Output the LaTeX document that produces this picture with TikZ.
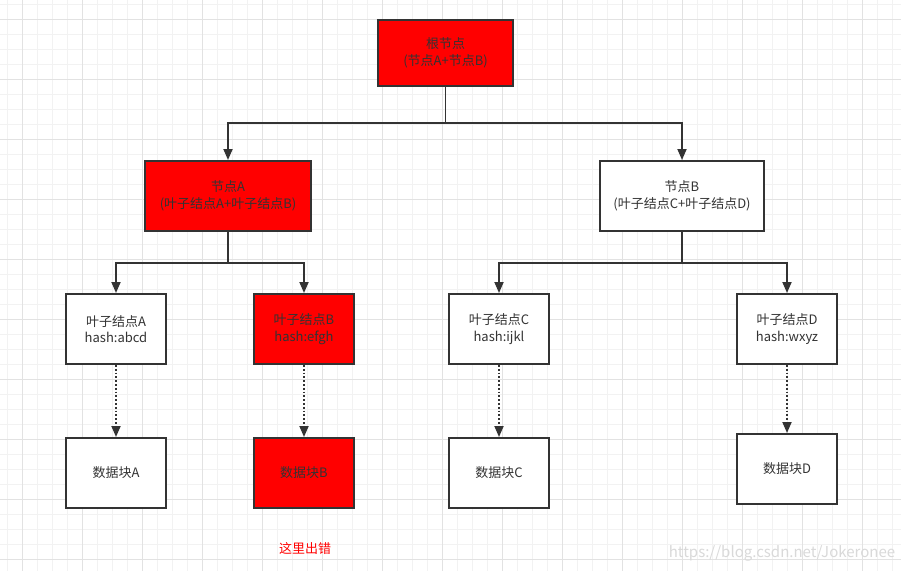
\documentclass[tikz,border=0pt]{standalone}
\usepackage{fontspec}
\setmainfont{Noto Sans CJK SC}
\usetikzlibrary{arrows.meta,positioning,calc}
\definecolor{errcolor}{RGB}{255,0,0}
\definecolor{linecolor}{RGB}{51,51,51}
\definecolor{gridminor}{RGB}{242,242,242}
\definecolor{gridmajor}{RGB}{226,226,226}

\tikzset{
  block/.style={draw=linecolor, line width=2pt, fill=white, text=linecolor,
    align=center, font=\fontsize{13}{16.5}\selectfont, inner sep=0pt},
  badblock/.style={block, fill=errcolor},
  leafbox/.style={minimum width=100pt, minimum height=70pt},
  link/.style={draw=linecolor, line width=1.8pt, -{Triangle[length=11pt,width=9pt]}},
  hashlink/.style={link, dotted}
}

\begin{document}
\begin{tikzpicture}[x=1pt,y=-1pt]

% ================= BACKGROUND GRID =================
\useasboundingbox (0,0) rectangle (901,571);
\fill[white] (0,0) rectangle (901,571);
\foreach \x in {7,22,...,901}
  \draw[gridminor, line width=0.8pt] (\x,0) -- (\x,571);
\foreach \y in {4,19,...,571}
  \draw[gridminor, line width=0.8pt] (0,\y) -- (901,\y);
\foreach \x in {22,82,...,901}
  \draw[gridmajor, line width=0.8pt] (\x,0) -- (\x,571);
\foreach \y in {19,79,...,571}
  \draw[gridmajor, line width=0.8pt] (0,\y) -- (901,\y);

% ================= TREE NODES =================
\node[badblock, minimum width=135pt, minimum height=66pt] (root) at (445.5,53)
  {根节点\\(节点A+节点B)};

\node[badblock, minimum width=166pt, minimum height=70pt] (nodeA) at (228,196)
  {节点A\\(叶子结点A+叶子结点B)};
\node[block, minimum width=164pt, minimum height=70pt] (nodeB) at (682,196)
  {节点B\\(叶子结点C+叶子结点D)};

% leaves
\node[block, leafbox] (leafA) at (116,329) {叶子结点A\\hash:abcd};
\node[badblock, leafbox] (leafB) at (304,329) {叶子结点B\\hash:efgh};
\node[block, leafbox] (leafC) at (499,329) {叶子结点C\\hash:ijkl};
\node[block, leafbox] (leafD) at (787,329) {叶子结点D\\hash:wxyz};

% data blocks
\node[block, leafbox] (dataA) at (116,473) {数据块A};
\node[badblock, leafbox] (dataB) at (304,473) {数据块B};
\node[block, leafbox] (dataC) at (499,473) {数据块C};
\node[block, leafbox] (dataD) at (787,469) {数据块D};

% ================= CONNECTORS =================
\coordinate (splitRoot) at (445.5,123);
\coordinate (splitA) at (228,263);
\coordinate (splitB) at (682,263);

\draw[line width=1.8pt, linecolor] (root.south) -- (splitRoot);
\draw[link] (splitRoot) -| (nodeA.north);
\draw[link] (splitRoot) -| (nodeB.north);

\draw[line width=1.8pt, linecolor] (nodeA.south) -- (splitA);
\draw[link] (splitA) -| (leafA.north);
\draw[link] (splitA) -| (leafB.north);

\draw[line width=1.8pt, linecolor] (nodeB.south) -- (splitB);
\draw[link] (splitB) -| (leafC.north);
\draw[link] (splitB) -| (leafD.north);

% hash links
\foreach \n in {A,B,C,D}
  \draw[hashlink] (leaf\n.south) -- (data\n.north);

% ================= ANNOTATIONS =================
\node[text=errcolor, font=\fontsize{13}{16}\selectfont] (errNote) at (305,548) {这里出错};
\node[text=black!15, font=\fontsize{15}{18}\selectfont] (mark) at (782,553)
  {https://blog.csdn.net/Jokeronee};

\end{tikzpicture}
\end{document}
